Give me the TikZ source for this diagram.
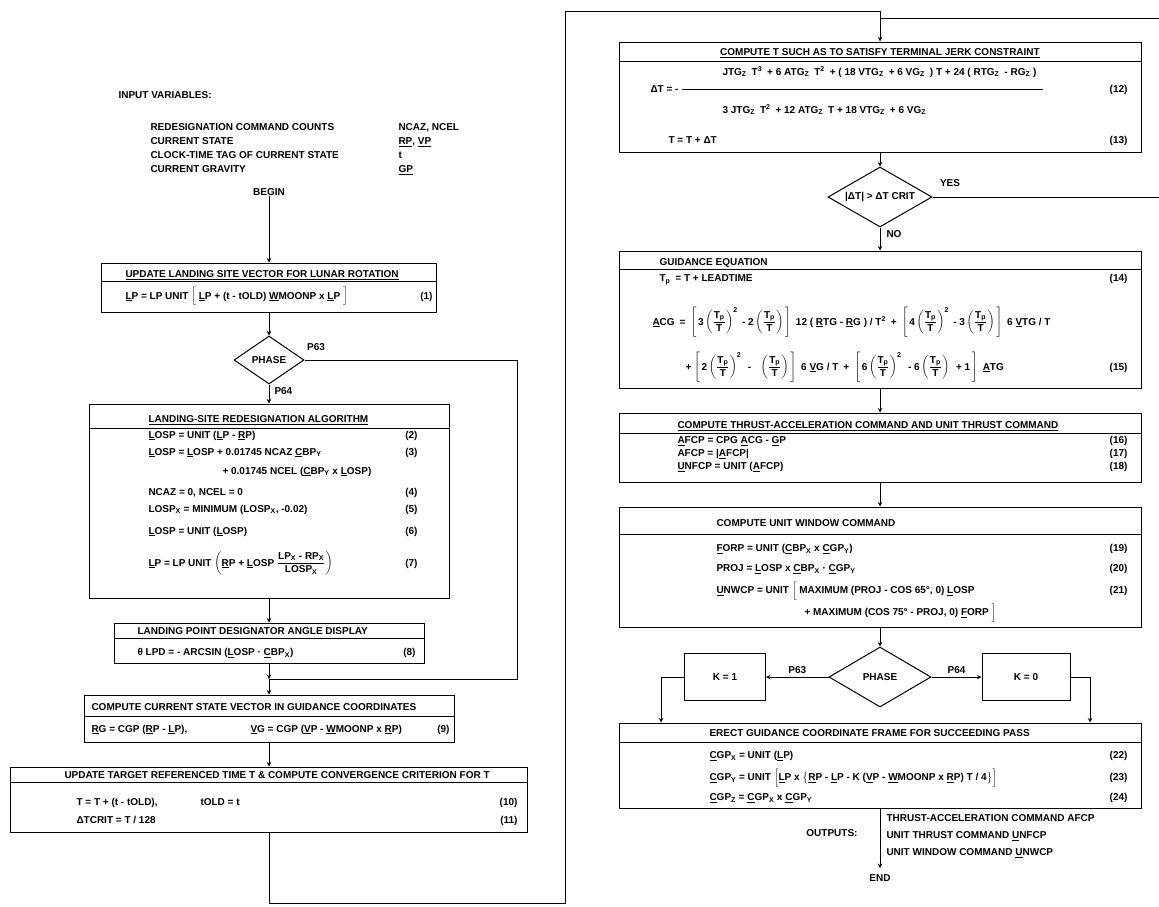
\documentclass[tikz,border=0pt]{standalone}
\usepackage{amsmath}
\usepackage{fontspec}
\setmainfont{Liberation Sans}
\usetikzlibrary{shapes.geometric}
\newcommand\uv[1]{\underline{#1}}
\newcommand\tpt{\left(\dfrac{\text{T}_{\text{p}}}{\text{T}}\right)}
\begin{document}
\begin{tikzpicture}[x=1pt,y=-1pt,>=stealth, line width=1pt]
                \tikzstyle{block} = [draw, rectangle, inner sep=0pt]
                \tikzstyle{decision} = [draw, diamond, aspect=2, inner sep=0pt, font=\fontsize{10}{12}\selectfont\bfseries]
                \tikzstyle{txt} = [inner sep=0pt, font=\fontsize{10}{12}\selectfont\bfseries]
                \tikzstyle{eq} = [txt, anchor=base west]
                \tikzstyle{eqno} = [txt, anchor=base east]
                \useasboundingbox (0,0) rectangle (1159,906);

                % Input variables
                \node[eq] (inp) at (118,98.5) {INPUT VARIABLES:};
                \node[eq] (in1) at (150,130.5) {REDESIGNATION COMMAND COUNTS};
                \node[eq] (in2) at (150,144.5) {CURRENT STATE};
                \node[eq] (in3) at (150,158.5) {CLOCK-TIME TAG OF CURRENT STATE};
                \node[eq] (in4) at (150,172.5) {CURRENT GRAVITY};
                \node[eq] (v1) at (398,130.5) {NCAZ, NCEL};
                \node[eq] (v2) at (398,144.5) {\uv{RP}, \uv{VP}};
                \node[eq] (v3) at (398,158.5) {t};
                \node[eq] (v4) at (398,172.5) {\uv{GP}};
                \node[txt] (begin) at (269,192) {BEGIN};

                % Box 1 - lunar rotation
                \node[block, minimum width=335, minimum height=49] (b1) at (269,287.5) {};
                \draw (b1.west |- 0,281) -- (b1.east |- 0,281);
                \node[eq] (t1) at (125,277.5) {\uv{UPDATE LANDING SITE VECTOR FOR LUNAR ROTATION}};
                \node[eq] (e1) at (125,299) {\uv{L}P = LP UNIT $\Bigl[$ \uv{L}P + (t - tOLD) \uv{W}MOONP x \uv{L}P $\Bigr]$};
                \node[eqno] (n1) at (433,299) {(1)};
                \draw[->] (begin) -- (b1.north);

                % Phase test
                \node[decision, minimum width=70, minimum height=48] (d1) at (269,360) {PHASE};
                \draw[->] (b1.south) -- (d1.north);
                \node[txt] (p63a) at (316,347) {P63};
                \node[txt, anchor=west] (p64a) at (274,391) {P64};

                % Box 2 - redesignation
                \node[block, minimum width=360, minimum height=194] (b2) at (269,501) {};
                \draw (b2.west |- 0,428) -- (b2.east |- 0,428);
                \draw[->] (d1.south) -- (b2.north);
                \node[eq] (t2) at (148,422.5) {\uv{LANDING-SITE REDESIGNATION ALGORITHM}};
                \node[eq] (e2) at (148,438) {\uv{L}OSP = UNIT (\uv{L}P - \uv{R}P)};
                \node[eq] (e3) at (148,455) {\uv{L}OSP = \uv{L}OSP + 0.01745 NCAZ \uv{C}BP\textsubscript{Y}};
                \node[eq] (e3b) at (222,474) {+ 0.01745 NCEL (\uv{C}BP\textsubscript{Y} x \uv{L}OSP)};
                \node[eq] (e4) at (148,495.5) {NCAZ = 0, NCEL = 0};
                \node[eq] (e5) at (148,512) {LOSP\textsubscript{X} = MINIMUM (LOSP\textsubscript{X}, -0.02)};
                \node[eq] (e6) at (148,534) {\uv{L}OSP = UNIT (\uv{L}OSP)};
                \node[eq] (e7) at (148,566) {\uv{L}P = LP UNIT $\left(\text{\uv{R}P + \uv{L}OSP }\dfrac{\text{LP\textsubscript{X} - RP\textsubscript{X}}}{\text{LOSP\textsubscript{X}}}\right)$};
                \node[eqno] (n2) at (418,438) {(2)};
                \node[eqno] (n3) at (418,455) {(3)};
                \node[eqno] (n4) at (418,495.5) {(4)};
                \node[eqno] (n5) at (418,512) {(5)};
                \node[eqno] (n6) at (418,534) {(6)};
                \node[eqno] (n7) at (418,566) {(7)};

                % Box 3 - designator angle
                \node[block, minimum width=310, minimum height=40] (b3) at (269,643) {};
                \draw (b3.west |- 0,638) -- (b3.east |- 0,638);
                \draw[->] (b2.south) -- (b3.north);
                \node[eq] (t3) at (137,634) {LANDING POINT DESIGNATOR ANGLE DISPLAY};
                \node[eq] (e8) at (137,655.5) {θ LPD = - ARCSIN (\uv{L}OSP · \uv{C}BP\textsubscript{X})};
                \node[eqno] (n8) at (416,655.5) {(8)};

                % P63 branch joins here
                \coordinate (j1) at (269,679);
                \coordinate (p63turn) at (517,679);
                \draw (d1.east) -| (p63turn) -- (j1);

                % Box 4 - state in guidance coordinates
                \node[block, minimum width=370, minimum height=47] (b4) at (269,718.5) {};
                \draw (b4.west |- 0,716) -- (b4.east |- 0,716);
                \draw[->] (b3.south) -- (j1);
                \draw[->] (j1) -- (b4.north);
                \node[eq] (t4) at (91,710) {COMPUTE CURRENT STATE VECTOR IN GUIDANCE COORDINATES};
                \node[eq] (e9a) at (91,732) {\uv{R}G = CGP (\uv{R}P - \uv{L}P),};
                \node[eq] (e9b) at (250,732) {\uv{V}G = CGP (\uv{V}P - \uv{W}MOONP x \uv{R}P)};
                \node[eqno] (n9) at (450,732) {(9)};

                % Box 5 - target referenced time
                \node[block, minimum width=517, minimum height=65] (b5) at (269,799.5) {};
                \draw (b5.west |- 0,782) -- (b5.east |- 0,782);
                \draw[->] (b4.south) -- (b5.north);
                \node[eq] (t5) at (64,778) {UPDATE TARGET REFERENCED TIME T \& COMPUTE CONVERGENCE CRITERION FOR T};
                \node[eq] (e10a) at (76,805.5) {T = T + (t - tOLD),};
                \node[eq] (e10b) at (200,805.5) {tOLD = t};
                \node[eq] (e11) at (76,823.5) {ΔTCRIT = T / 128};
                \node[eqno] (n10) at (518,805.5) {(10)};
                \node[eqno] (n11) at (518,823.5) {(11)};

                % Loop over to the right column
                \coordinate (lpA) at (565,903);
                \coordinate (lpB) at (880,11);

                % Box 6 - terminal jerk constraint
                \node[block, minimum width=522, minimum height=110] (b6) at (880,97) {};
                \draw (b6.west |- 0,61) -- (b6.east |- 0,61);
                \draw[->] (b5.south) |- (lpA) |- (lpB) -- (b6.north);
                \node[txt, anchor=base] (t6) at (880,55.5) {\uv{COMPUTE T SUCH AS TO SATISFY TERMINAL JERK CONSTRAINT}};
                \node[eq] (dt) at (650,92.5) {ΔT = -};
                \node[eq] (num) at (722,75) {JTG\textsubscript{Z}\enspace T\textsuperscript{3}\enspace + 6 ATG\textsubscript{Z}\enspace T\textsuperscript{2}\enspace + ( 18 VTG\textsubscript{Z}\enspace + 6 VG\textsubscript{Z}\enspace ) T + 24 ( RTG\textsubscript{Z}\enspace - RG\textsubscript{Z} )};
                \node[eq] (den) at (722,113) {3 JTG\textsubscript{Z}\enspace T\textsuperscript{2}\enspace + 12 ATG\textsubscript{Z}\enspace T + 18 VTG\textsubscript{Z}\enspace + 6 VG\textsubscript{Z}};
                \draw[line width=0.7pt] ([xshift=3]dt.east) -- ([xshift=6]dt.east -| num.east);
                \node[eq] (e13) at (668,143.5) {T = T + ΔT};
                \node[eqno] (n12) at (1128,92.5) {(12)};
                \node[eqno] (n13) at (1128,143.5) {(13)};

                % Convergence test
                \node[decision, minimum width=104, minimum height=60] (d2) at (880,197) {|ΔT| > ΔT CRIT};
                \draw[->] (b6.south) -- (d2.north);
                \node[txt] (yes) at (950,183) {YES};
                \node[txt, anchor=west] (no) at (886,234) {NO};
                \coordinate (yesA) at (1175,197);
                \coordinate (yesB) at (880,18);
                \draw (d2.east) -- (yesA) |- (yesB);

                % Box 7 - guidance equation
                \node[block, minimum width=522, minimum height=137] (b7) at (880,319.5) {};
                \draw (b7.west |- 0,269) -- (b7.east |- 0,269);
                \draw[->] (d2.south) -- (b7.north);
                \node[eq] (t7) at (659,265.5) {\uv{GUIDANCE EQUATION}};
                \node[eq] (e14) at (659,281.5) {T\textsubscript{p}\enspace = T + LEADTIME};
                \node[eq] (e15a) at (652,325) {\uv{A}CG\enspace =\enspace $\left[\,\text{3}\tpt^{\text{2}}\text{ - 2}\tpt\,\right]$\enspace 12 ( \uv{R}TG - \uv{R}G ) / T\textsuperscript{2}\enspace +\enspace $\left[\,\text{4}\tpt^{\text{2}}\text{ - 3}\tpt\,\right]$\enspace 6 \uv{V}TG / T};
                \node[eq] (e15b) at (685,370) {+ $\left[\,\text{2}\tpt^{\text{2}}\text{\enspace - \enspace}\tpt\,\right]$\enspace 6 \uv{V}G / T\enspace +\enspace $\left[\,\text{6}\tpt^{\text{2}}\text{\enspace - 6}\tpt\text{\enspace + 1}\,\right]$\enspace \uv{A}TG};
                \node[eqno] (n14) at (1128,281.5) {(14)};
                \node[eqno] (n15) at (1128,370) {(15)};

                % Box 8 - thrust command
                \node[block, minimum width=522, minimum height=69] (b8) at (880,447.5) {};
                \draw (b8.west |- 0,433) -- (b8.east |- 0,433);
                \draw[->] (b7.south) -- (b8.north);
                \node[eq] (t8) at (677,428.5) {\uv{COMPUTE THRUST-ACCELERATION COMMAND AND UNIT THRUST COMMAND}};
                \node[eq] (e16) at (677,443.5) {\uv{A}FCP = CPG \uv{A}CG - \uv{G}P};
                \node[eq] (e17) at (677,456.5) {AFCP = |\uv{A}FCP|};
                \node[eq] (e18) at (677,469.5) {\uv{U}NFCP = UNIT (\uv{A}FCP)};
                \node[eqno] (n16) at (1128,443.5) {(16)};
                \node[eqno] (n17) at (1128,456.5) {(17)};
                \node[eqno] (n18) at (1128,469.5) {(18)};

                % Box 9 - window command
                \node[block, minimum width=522, minimum height=120] (b9) at (880,567) {};
                \draw (b9.west |- 0,534) -- (b9.east |- 0,534);
                \draw[->] (b8.south) -- (b9.north);
                \node[eq] (t9) at (716,526.5) {COMPUTE UNIT WINDOW COMMAND};
                \node[eq] (e19) at (716,551.5) {\uv{F}ORP = UNIT (\uv{C}BP\textsubscript{X} x \uv{C}GP\textsubscript{Y})};
                \node[eq] (e20) at (716,571.5) {PROJ = \uv{L}OSP x \uv{C}BP\textsubscript{X} · \uv{C}GP\textsubscript{Y}};
                \node[eq] (e21a) at (716,593.5) {\uv{U}NWCP = UNIT $\Bigl[$ MAXIMUM (PROJ - COS 65°, 0) \uv{L}OSP};
                \node[eq] (e21b) at (804,615.5) {+ MAXIMUM (COS 75° - PROJ, 0) \uv{F}ORP $\Bigr]$};
                \node[eqno] (n19) at (1128,551.5) {(19)};
                \node[eqno] (n20) at (1128,571.5) {(20)};
                \node[eqno] (n21) at (1128,593.5) {(21)};

                % Phase switch for K
                \node[decision, minimum width=102, minimum height=60] (d3) at (880,677) {PHASE};
                \draw[->] (b9.south) -- (d3.north);
                \node[block, minimum width=81, minimum height=47, txt] (k1) at (725,677) {K = 1};
                \node[block, minimum width=88, minimum height=47, txt] (k0) at (1026,677) {K = 0};
                \draw[->] (d3.west) -- (k1.east) node[txt, midway, above=3pt] {P63};
                \draw[->] (d3.east) -- (k0.west) node[txt, midway, above=3pt] {P64};

                % Box 10 - guidance frame
                \node[block, minimum width=522, minimum height=85] (b10) at (880,765.5) {};
                \draw (b10.west |- 0,742) -- (b10.east |- 0,742);
                \draw[->] (k1.west) -| ([xshift=-219]b10.north);
                \draw[->] (k0.east) -| ([xshift=210]b10.north);
                \node[eq] (t10) at (709,736.5) {ERECT GUIDANCE COORDINATE FRAME FOR SUCCEEDING PASS};
                \node[eq] (e22) at (709,758.5) {\uv{C}GP\textsubscript{X} = UNIT (\uv{L}P)};
                \node[eq] (e23) at (709,780.5) {\uv{C}GP\textsubscript{Y} = UNIT $\Bigl[$\uv{L}P x $\bigl\{$\uv{R}P - \uv{L}P - K (\uv{V}P - \uv{W}MOONP x \uv{R}P) T / 4$\bigr\}\Bigr]$};
                \node[eq] (e24) at (709,800.5) {\uv{C}GP\textsubscript{Z} = \uv{C}GP\textsubscript{X} x \uv{C}GP\textsubscript{Y}};
                \node[eqno] (n22) at (1128,758.5) {(22)};
                \node[eqno] (n23) at (1128,780.5) {(23)};
                \node[eqno] (n24) at (1128,800.5) {(24)};

                % Outputs
                \node[txt] (end) at (880,878) {END};
                \draw[->, shorten >=6pt] (b10.south) -- (end.north);
                \node[eqno] (outp) at (858,836.5) {OUTPUTS:};
                \node[eq] (o1) at (886,821.5) {THRUST-ACCELERATION COMMAND AFCP};
                \node[eq] (o2) at (886,838.5) {UNIT THRUST COMMAND \uv{U}NFCP};
                \node[eq] (o3) at (886,855.5) {UNIT WINDOW COMMAND \uv{U}NWCP};
            \end{tikzpicture}
\end{document}
